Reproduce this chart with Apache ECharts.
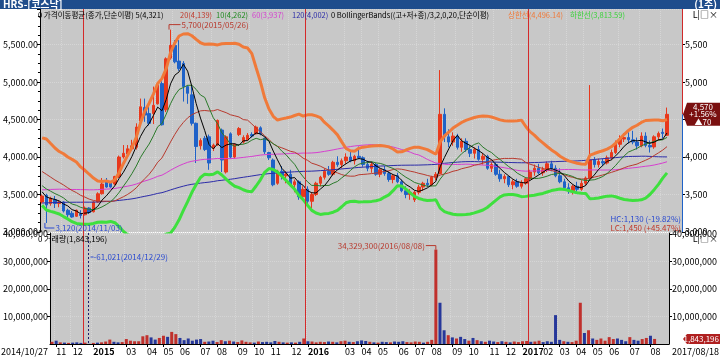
<!DOCTYPE html>
<html><head><meta charset="utf-8">
<script src="https://cdn.jsdelivr.net/npm/echarts/dist/echarts.min.js"></script>
<style>html,body{margin:0;padding:0;background:#fff;overflow:hidden}#c{width:720px;height:358px}</style>
</head><body><div id="c"></div>
<script>
// ---- data (weekly, first week 2014/10/27) ----
const N_SLOTS = 150;
const opens = [
3400,3490,3380,3430,3380,3400,3290,3250,3210,3240,
3230,3320,3270,3400,3510,3680,3660,3640,3740,4000,
4040,4110,4130,4480,4660,4580,4580,4710,4980,4630,
5320,5490,5280,5250,4940,4830,4450,4150,4250,4270,
4120,4160,4360,3800,4310,4000,4300,4200,4230,4300,
4310,4390,4250,4060,3960,3650,3810,3750,3770,3630,
3670,3470,3570,3410,3500,3650,3730,3810,3770,3930,
3900,3950,4000,3950,4010,3990,3900,3850,3900,3770,
3830,3780,3700,3750,3670,3550,3500,3430,3530,3600,
3650,3630,3730,3780,4570,4270,4200,4280,4130,4210,
4100,4050,4100,3970,4010,3850,3900,3770,3710,3740,
3630,3670,3610,3650,3710,3800,3850,3790,3830,3910,
3850,3750,3670,3590,3550,3610,3570,3650,3720,3960,
3900,3940,3920,3990,4060,4170,4240,4260,4230,4200,
4150,4280,4155,4135,4270,4330,4290];
const highs = [
3500,3510,3470,3480,3420,3410,3310,3280,3300,3290,
3340,3330,3410,3530,3720,3720,3680,3750,4020,4160,
4160,4230,4450,4780,4780,4670,4940,5000,5010,5330,
5700,5560,5560,5280,4960,4950,4460,4250,4280,4300,
4180,4500,4380,4290,4330,4180,4400,4290,4320,4330,
4420,4410,4260,4070,3980,3830,3880,3810,3830,3700,
3690,3610,3610,3530,3670,3750,3850,3880,3950,4010,
3980,4050,4070,4030,4140,4010,3950,3930,3920,3850,
3880,3810,3770,3790,3700,3610,3570,3550,3630,3670,
3710,3750,3800,5160,4650,4370,4330,4310,4250,4250,
4150,4130,4150,4050,4030,3930,3930,3830,3770,3750,
3700,3710,3690,3730,3830,3900,3910,3870,3940,3950,
3890,3850,3710,3650,3630,3670,3690,3740,4960,4000,
3980,3980,4020,4100,4220,4290,4320,4330,4350,4260,
4330,4330,4220,4290,4340,4380,4660];
const lows = [
3380,3120,3350,3320,3330,3260,3200,3190,3200,3180,
3220,3240,3260,3390,3500,3590,3590,3620,3720,3980,
4000,4080,4100,4460,4470,4420,4440,4700,4420,4600,
5300,5250,5150,4740,4710,4420,3920,4100,4080,3830,
4080,4150,3800,3780,3980,3980,4280,4180,4220,4260,
4300,4290,4040,3960,3610,3630,3700,3650,3610,3530,
3430,3430,3350,3320,3480,3610,3700,3750,3750,3870,
3850,3910,3930,3900,3970,3870,3810,3790,3750,3730,
3750,3670,3650,3650,3530,3450,3430,3400,3500,3550,
3600,3610,3690,3770,4200,4130,4150,4100,4070,4070,
4000,3980,3950,3900,3830,3800,3750,3670,3650,3600,
3570,3590,3580,3630,3690,3750,3770,3750,3800,3810,
3730,3650,3550,3510,3500,3530,3550,3620,3700,3860,
3860,3880,3900,3960,4040,4130,4200,4180,4170,4100,
4130,4130,4060,4110,4220,4250,4280];
const closes = [
3480,3360,3450,3380,3400,3280,3230,3200,3290,3220,
3320,3260,3400,3510,3640,3600,3600,3740,4000,4050,
4110,4150,4400,4670,4560,4450,4690,4960,4430,5310,
5490,5270,5180,4940,4850,4450,4140,4220,4100,3920,
4160,4490,3960,4270,4000,4170,4380,4260,4290,4280,
4400,4310,4070,3990,3630,3810,3750,3770,3630,3670,
3470,3570,3410,3500,3650,3730,3810,3770,3930,3900,
3950,4000,3950,4010,3990,3900,3850,3900,3770,3830,
3780,3700,3750,3670,3550,3500,3530,3530,3600,3650,
3630,3730,3770,4570,4270,4200,4280,4130,4210,4100,
4050,4100,3970,4010,3850,3900,3770,3710,3740,3630,
3670,3610,3650,3710,3800,3850,3790,3830,3910,3850,
3750,3670,3590,3550,3610,3570,3650,3720,3960,3900,
3940,3920,3990,4060,4170,4240,4260,4230,4200,4150,
4280,4155,4135,4270,4315,4315,4570];
const volumes = [
800000,1200000,600000,500000,400000,500000,600000,400000,500000,61021,
400000,500000,600000,900000,1600000,800000,600000,700000,1800000,1200000,
1000000,1000000,2800000,3200000,2400000,1600000,2200000,3000000,2600000,4400000,
3600000,2200000,1400000,2000000,1200000,1600000,1800000,800000,900000,1200000,
700000,1400000,1000000,1200000,900000,700000,1300000,800000,600000,500000,
900000,700000,800000,600000,1100000,800000,600000,500000,600000,500000,
800000,2000000,1000000,900000,600000,800000,700000,900000,800000,600000,
1000000,1200000,800000,700000,1000000,1300000,1100000,800000,600000,500000,
800000,700000,600000,900000,800000,1000000,700000,600000,900000,800000,
500000,800000,1500000,34329300,15000000,5000000,3200000,2400000,2000000,2600000,
1800000,1200000,2200000,1400000,1000000,800000,1200000,900000,700000,1000000,
800000,600000,900000,700000,1000000,1100000,800000,900000,1200000,700000,
1000000,800000,10500000,1500000,1000000,800000,700000,1200000,15000000,4000000,
5000000,2000000,1500000,2000000,1200000,2500000,1800000,2000000,1500000,1000000,
2500000,1500000,1200000,1800000,2200000,3000000,1843196];
// estimated closes of the weeks before the first visible week (seed the averages)
const priorCloses = [
3100,3150,3120,3180,3200,3160,3140,3200,3250,3220,
3280,3300,3260,3240,3200,3180,3220,3260,3300,3280,
3250,3200,3180,3150,3120,3160,3200,3240,3220,3180,
3150,3120,3100,3140,3180,3220,3260,3240,3200,3180,
3220,3260,3300,3280,3250,3220,3200,3240,3280,3300,
3260,3220,3200,3180,3200,3240,3260,3220,3200,3180,
3200,3250,3300,3280,3320,3350,3300,3280,3320,3360,
3400,3380,3350,3400,3450,3420,3380,3400,3440,3480,
3450,3420,3400,3380,3420,3460,3500,3480,3450,3420,
3400,3450,3500,3550,3600,3580,3620,3700,3800,3950,
4100,4200,4150,4050,3950,4000,3900,3850,3950,3800,
3800,3750,3700,3650,3600,3700,3550,3450,3500];
const monthLabels = [[1,'11'],[5,'12'],[10,'2015'],[18,'03'],[23,'04'],[27,'05'],[31,'06'],[36,'07'],[40,'08'],[45,'09'],[49,'10'],[53,'11'],[58,'12'],
 [62,'2016'],[71,'03'],[75,'04'],[79,'05'],[84,'06'],[88,'07'],[92,'08'],[97,'09'],[101,'10'],[106,'11'],[110,'12'],
 [114,'2017'],[119,'02'],[123,'03'],[127,'04'],[131,'05'],[135,'06'],[140,'07'],[145,'08']];
const yearStarts = [10,62,114];
const legendParts = [
 ['0 가격이동평균(종가,단순이평) 5(4,321)',38,'#000000'],
 ['20(4,139)',180,'#c0392b'],
 ['10(4,262)',216,'#1e8a1e'],
 ['60(3,937)',252,'#d63fd0'],
 ['120(4,002)',292,'#2b2ba8'],
 ['0 BollingerBands((고+저+종)/3,2,0,20,단순이평)',331,'#000000'],
 ['상한선(4,496.14)',508,'#f07a3a'],
 ['하한선(3,813.59)',570,'#39d239']];

// ---- derived ----
const cats = [];
{const d0 = Date.UTC(2014,9,27); for(let i=0;i<N_SLOTS;i++){const d=new Date(d0+i*7*864e5);
 cats.push(d.getUTCFullYear()+'/'+String(d.getUTCMonth()+1).padStart(2,'0')+'/'+String(d.getUTCDate()).padStart(2,'0'));}}
const allCloses = priorCloses.concat(closes);
const P = priorCloses.length;
function ma(n){return closes.map((c,i)=>{let s=0;const k=i+P;for(let j=k-n+1;j<=k;j++)s+=allCloses[j];return +(s/n).toFixed(2);});}
const typ = priorCloses.concat(closes.map((c,i)=>(highs[i]+lows[i]+c)/3));
const bbU=[],bbL=[];
closes.forEach((c,i)=>{const k=i+P;let s=0;for(let j=k-19;j<=k;j++)s+=typ[j];const m=s/20;let v=0;for(let j=k-19;j<=k;j++)v+=(typ[j]-m)**2;const sd=Math.sqrt(v/20);bbU.push(+(m+2*sd).toFixed(2));bbL.push(+(m-2*sd).toFixed(2));});
const candle = closes.map((c,i)=>[opens[i],c,lows[i],highs[i]]);
const UP='#e8381c', DN='#1f62c8', VUP='#c0302c', VDN='#26379a';
const vol = volumes.map((v,i)=>({value:v,itemStyle:{color: closes[i]>=opens[i]?VUP:VDN}}));
const labelMap = new Map(monthLabels);
const fmt = v => Number(v).toLocaleString('en-US');
const FONT = '"Noto Sans CJK KR","DejaVu Sans",sans-serif';
const GRIDC = '#d6d6d6';

const chart = echarts.init(document.getElementById('c'),null,{renderer:'canvas'});
const line = (name,data,color,w,z)=>({name,type:'line',data,xAxisIndex:0,yAxisIndex:0,symbol:'none',smooth:false,z:z||3,lineStyle:{color,width:w},itemStyle:{color},silent:true,animation:false});
const option = {
 animation:false,
 textStyle:{fontFamily:FONT},
 grid:[{left:37,top:9,width:645,height:223,show:true,backgroundColor:'#c8c8c8',borderWidth:0},
       {left:37,top:233,width:645,height:111,show:true,backgroundColor:'#c8c8c8',borderWidth:0}],
 xAxis:[
  {type:'category',gridIndex:0,data:cats,boundaryGap:true,axisLine:{show:false},axisTick:{show:false},axisLabel:{show:false},
   splitLine:{show:true,interval:(i)=>labelMap.has(i),lineStyle:{color:GRIDC,type:'dotted'}}},
  {type:'category',gridIndex:1,data:cats,boundaryGap:true,axisLine:{show:true,lineStyle:{color:'#000'}},
   axisTick:{show:true,interval:(i)=>labelMap.has(i),length:3,alignWithLabel:true,lineStyle:{color:'#000'}},
   axisLabel:{show:true,interval:(i)=>labelMap.has(i),formatter:(v,i)=>{const t=labelMap.get(i)||'';return t.length===4?'{y|'+t+'}':t;},
     rich:{y:{fontWeight:'bold',fontSize:9,fontFamily:FONT,color:'#000'}},fontSize:9,color:'#000',align:'left',margin:3,fontFamily:FONT},
   splitLine:{show:true,interval:(i)=>labelMap.has(i),lineStyle:{color:GRIDC,type:'dotted'}}}
 ],
 yAxis:[
  {type:'value',gridIndex:0,position:'left',min:3000,max:5975,interval:500,
   axisLine:{show:true,lineStyle:{color:'#000'}},axisTick:{show:true,length:3,lineStyle:{color:'#000'}},
   minorTick:{show:true,splitNumber:4,length:2,lineStyle:{color:'#000'}},
   axisLabel:{formatter:v=>fmt(v)+'.00',fontSize:9,color:'#000',margin:2,showMaxLabel:false,fontFamily:FONT},
   splitLine:{show:true,lineStyle:{color:GRIDC,type:'dotted'}}},
  {type:'value',gridIndex:0,position:'right',min:3000,max:5975,interval:500,
   axisLine:{show:false},axisTick:{show:true,length:3,lineStyle:{color:'#000'}},
   axisLabel:{formatter:v=>fmt(v),fontSize:9,color:'#000',margin:3,showMaxLabel:false,fontFamily:FONT},splitLine:{show:false}},
  {type:'value',gridIndex:1,position:'left',min:0,max:40360000,interval:10000000,
   axisLine:{show:true,lineStyle:{color:'#000'}},axisTick:{show:true,length:3,lineStyle:{color:'#000'}},
   axisLabel:{formatter:v=>fmt(v),fontSize:9,color:'#000',margin:2,showMaxLabel:false,showMinLabel:false,fontFamily:FONT},
   splitLine:{show:true,lineStyle:{color:GRIDC,type:'dotted'}}},
  {type:'value',gridIndex:1,position:'right',min:0,max:40360000,interval:10000000,
   axisLine:{show:true,lineStyle:{color:'#000'}},axisTick:{show:true,length:3,lineStyle:{color:'#000'}},
   axisLabel:{formatter:v=>fmt(v),fontSize:9,color:'#000',margin:3,showMaxLabel:false,showMinLabel:false,fontFamily:FONT},splitLine:{show:false}}
 ],
 series:[
  {name:'candle',type:'candlestick',xAxisIndex:0,yAxisIndex:0,data:candle,barWidth:3,z:2,silent:true,
   itemStyle:{color:UP,color0:DN,borderColor:UP,borderColor0:DN,borderWidth:1}},
  line('MA120',ma(120),'#2b2ba8',1,3),
  line('MA60',ma(60),'#d63fd0',1,3),
  line('MA20',ma(20),'#b83a2e',1,3),
  line('MA10',ma(10),'#2a7a2a',1,3),
  line('MA5',ma(5),'#000000',1,3),
  line('BBU',bbU,'#f07a3a',3,4),
  line('BBL',bbL,'#3ee03e',3,4),
  {name:'vol',type:'bar',xAxisIndex:1,yAxisIndex:2,data:vol,barWidth:3,silent:true}
 ]
};
chart.setOption(option);

// ---- annotations placed through the chart's own scales ----
const px = (i,v)=>chart.convertToPixel({xAxisIndex:0,yAxisIndex:0},[i,v]);
const pv = (i,v)=>chart.convertToPixel({xAxisIndex:1,yAxisIndex:2},[i,v]);
const G = [];
const T = (text,x,y,color,opt)=>G.push({type:'text',x,y,z:50,silent:true,style:Object.assign({text,fill:color,font:'9px '+FONT,textVerticalAlign:'middle'},opt||{})});
const L = (pts,color,extra)=>G.push({type:'polyline',z:45,silent:true,shape:{points:pts},style:Object.assign({stroke:color,lineWidth:1,fill:null},extra||{})});
const R = (x,y,w,h,fill)=>G.push({type:'rect',z:40,silent:true,shape:{x,y,width:w,height:h},style:{fill}});
const pTop = px(0,5975)[1], pBot = px(0,3000)[1];
const vTop = pv(0,40360000)[1], vBot = pv(0,0)[1];
// title bar
R(0,0,720,9,'#1f4d8c');
T('HRS-[코스닥]',3,4.5,'#ffffff',{font:'bold 10px '+FONT});
T('(1주)',717,4.5,'#ffffff',{font:'bold 10px '+FONT,textAlign:'right'});
// legend
legendParts.forEach(p=>T(p[0],p[1],15,p[2],{font:'7.5px '+FONT}));
T('L|□×',718,15,'#000',{font:'9px '+FONT,textAlign:'right'});
T('L|□×',718,239,'#000',{font:'9px '+FONT,textAlign:'right'});
// year separators (between last week of a year and first week of the next)
yearStarts.forEach(i=>{const x=Math.round((px(i-1,3000)[0]+px(i,3000)[0])/2);R(x,pTop,1,vBot-pTop,'#d42a2a');});
// highest / lowest
let hi=0,lo=0;highs.forEach((h,i)=>{if(h>highs[hi])hi=i;});lows.forEach((l,i)=>{if(l<lows[lo])lo=i;});
{const [x,y]=px(hi,highs[hi]);const yy=y-5;L([[x-1.5,y],[x-1.5,yy],[x+10,yy]],'#b83a2e');T(fmt(highs[hi])+'(2015/05/26)',x+11,yy,'#b83a2e',{font:'8px '+FONT});}
{const [x,y]=px(lo,lows[lo]);const yy=y+5;L([[x-1.5,y],[x-1.5,yy],[x+8,yy]],'#2b4bd0');T(fmt(lows[lo])+'('+cats[lo]+')',x+9,yy,'#2b4bd0',{font:'8px '+FONT});}
// right axis colored line + price tag
const last = closes.length-1;
const yC = px(last,closes[last])[1];
L([[682.5,pTop],[682.5,yC]],'#d02a2a');L([[682.5,yC],[682.5,pBot]],'#1f62c8');
G.push({type:'polygon',z:45,silent:true,shape:{points:[[683,yC],[687,yC-11.5],[720,yC-11.5],[720,yC+11.5],[687,yC+11.5]]},style:{fill:'#7a1010'}});
T(fmt(closes[last]),703,yC-7.5,'#fff',{font:'8px '+FONT,textAlign:'center'});
T('+1.56%',703,yC,'#fff',{font:'8px '+FONT,textAlign:'center'});
T('▲70',703,yC+7.5,'#fff',{font:'8px '+FONT,textAlign:'center'});
// HC / LC
T('HC:1,130 (-19.82%)',681,pBot-13,'#2b4bd0',{font:'8px '+FONT,textAlign:'right'});
T('LC:1,450 (+45.47%)',681,pBot-4,'#c0392b',{font:'8px '+FONT,textAlign:'right'});
// volume panel
T('0 거래량(1,843,196)',38,238.5,'#000',{font:'8px '+FONT});
let vmax=0,vmin=0;volumes.forEach((v,i)=>{if(v>volumes[vmax])vmax=i;if(v<volumes[vmin])vmin=i;});
{const [x,y]=pv(vmax,volumes[vmax]);const yy=y-4;L([[x,y],[x,yy],[x-10,yy]],'#b83a2e');T(fmt(volumes[vmax])+'('+cats[vmax]+')',x-11,yy,'#b83a2e',{font:'8px '+FONT,textAlign:'right'});}
{const [x]=pv(vmin,0);const xx=Math.round(x)-0.5;L([[xx,vTop],[xx,vBot]],'#1a1a6a',{lineDash:[2,2]});L([[xx+2,257],[xx+5,257]],'#2b4bd0');T('-'+fmt(volumes[vmin])+'('+cats[vmin]+')',xx+5,257,'#2b4bd0',{font:'8px '+FONT});}
// volume tag
{const yv=pv(last,volumes[last])[1];const yy=Math.min(yv,339);
G.push({type:'polygon',z:45,silent:true,shape:{points:[[683,yy],[687,yy-5],[720,yy-5],[720,yy+5],[687,yy+5]]},style:{fill:'#b02020'}});
T(fmt(volumes[last]),719,yy,'#fff',{font:'8px '+FONT,textAlign:'right'});}
// start / end dates
T(cats[0],1,352,'#000',{font:'9px '+FONT});
T('2017/08/18',719,352,'#000',{font:'9px '+FONT,textAlign:'right'});
chart.setOption({graphic:{elements:G}});
</script></body></html>
